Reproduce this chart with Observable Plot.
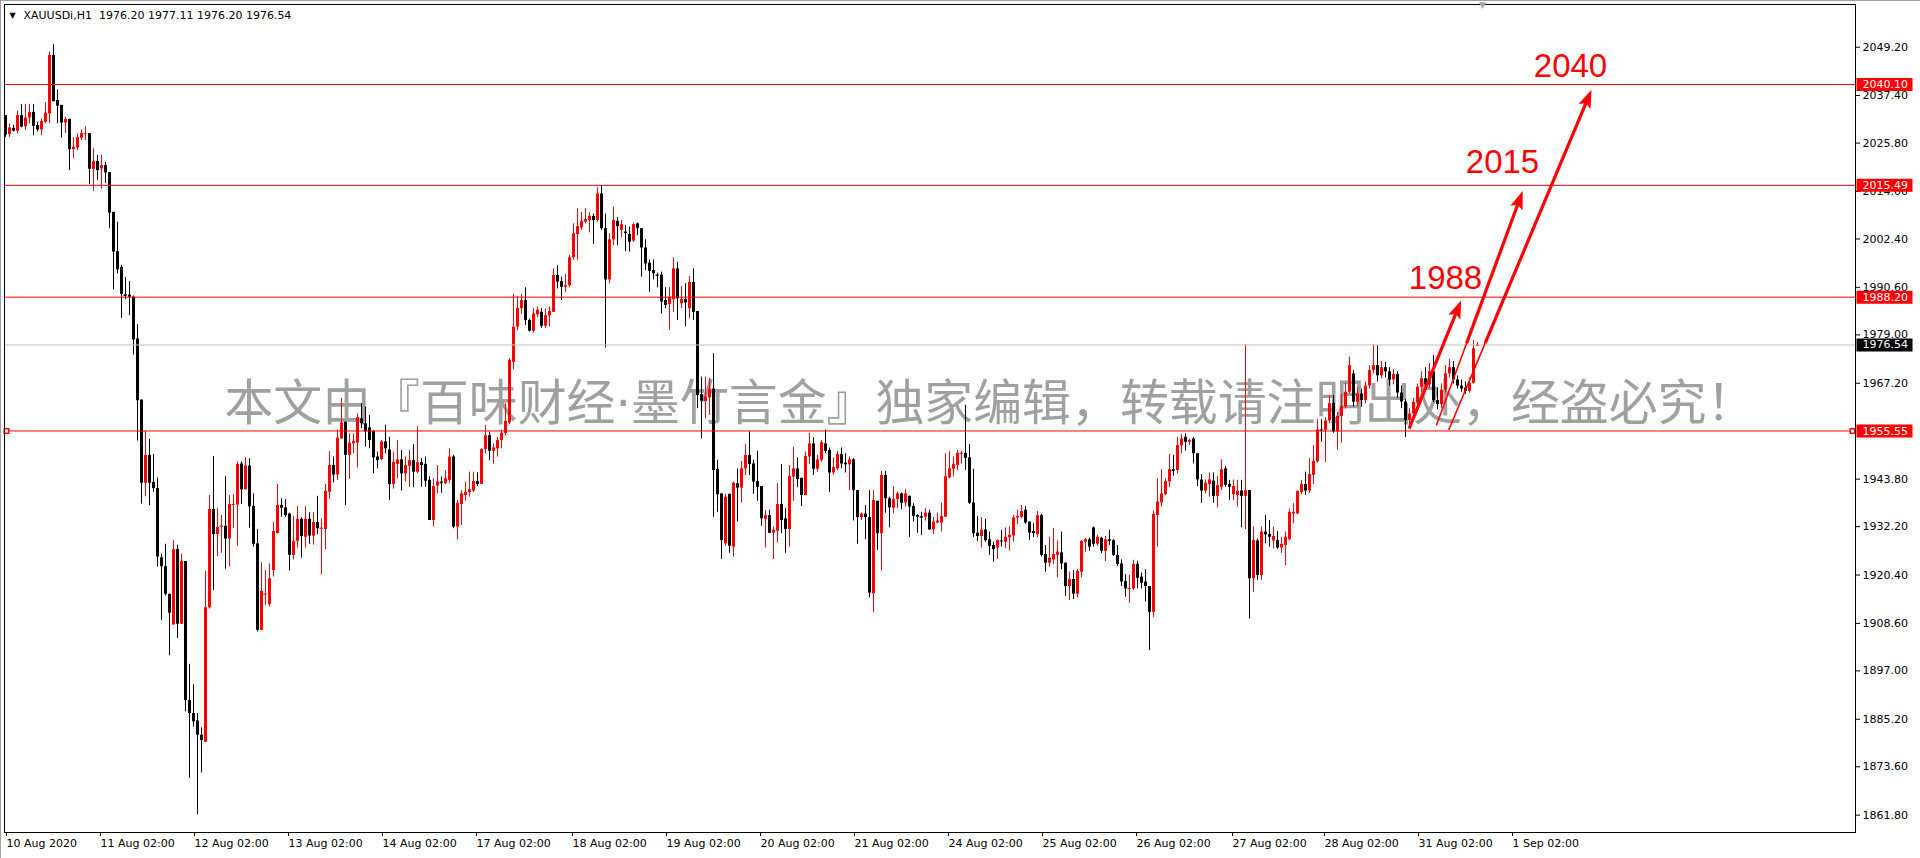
<!DOCTYPE html>
<html><head><meta charset="utf-8">
<script src="https://cdn.jsdelivr.net/npm/d3@7"></script>
<script src="https://cdn.jsdelivr.net/npm/@observablehq/plot@0.6"></script>
<style>
html,body{margin:0;padding:0;background:#fff;}
#chart{position:relative;width:1920px;height:858px;overflow:hidden;}
.edge{position:absolute;background:#a0a0a0;}
</style></head><body><div id="chart"></div>
<script>
// ---- XAUUSDi H1 candles (index 0 = 10 Aug 2020) ----
const opens = [
2032.5,2027.9,2029.4,2028.7,2032.5,2029.8,2031.9,2033.3,2030.1,2029.0,
2030.9,2032.9,2047.2,2036.2,2035.0,2030.7,2031.6,2024.2,2024.6,2027.0,
2028.0,2028.1,2019.4,2021.3,2019.5,2020.3,2018.6,2008.9,1999.3,1995.5,
1988.8,1988.7,1988.2,1978.0,1963.1,1942.8,1949.6,1943.0,1941.5,1924.6,
1922.4,1915.7,1908.2,1926.6,1908.4,1923.7,1889.8,1886.6,1884.8,1881.3,
1879.6,1912.4,1936.4,1930.3,1932.1,1932.3,1929.2,1937.5,1937.5,1947.5,
1941.2,1947.0,1937.1,1928.0,1906.9,1915.6,1913.2,1921.5,1930.5,1937.4,
1936.8,1935.3,1925.2,1928.6,1934.0,1929.6,1934.0,1929.9,1933.2,1931.7,
1931.5,1940.6,1947.1,1944.8,1953.6,1957.7,1949.6,1952.4,1952.6,1958.5,
1957.3,1956.3,1955.5,1949.2,1948.6,1952.9,1950.9,1942.5,1947.4,1948.5,
1945.1,1946.9,1948.3,1945.5,1947.8,1947.4,1943.5,1933.7,1942.1,1943.1,
1942.7,1943.5,1949.2,1932.1,1937.6,1939.8,1940.5,1940.9,1943.2,1942.5,
1951.0,1954.4,1950.6,1951.2,1953.2,1954.9,1957.5,1972.3,1980.9,1985.4,
1987.4,1982.5,1979.9,1983.9,1984.5,1981.1,1983.6,1984.5,1993.5,1992.0,
1990.6,1991.0,1997.8,2003.5,2005.1,2006.5,2006.9,2007.9,2006.9,2013.4,
2004.9,1992.4,2002.2,2006.7,2004.5,2004.1,2003.5,2001.9,2006.1,2004.9,
2000.2,1996.5,1994.7,1993.6,1993.6,1987.4,1986.4,1987.6,1995.1,1986.6,
1987.6,1985.4,1991.8,1984.7,1964.4,1962.7,1963.6,1965.8,1946.2,1940.2,
1928.0,1940.1,1927.2,1942.7,1941.6,1946.3,1949.6,1947.5,1943.2,1942.0,
1934.0,1934.9,1930.6,1931.1,1937.6,1934.1,1931.5,1944.3,1946.3,1944.0,
1939.8,1949.2,1952.4,1946.2,1948.4,1952.4,1950.8,1945.3,1946.3,1949.8,
1947.7,1947.3,1948.5,1941.0,1934.4,1935.3,1934.4,1915.8,1938.4,1930.5,
1944.7,1939.0,1936.7,1938.8,1940.2,1938.0,1939.6,1937.1,1934.9,1934.7,
1934.5,1935.5,1931.4,1933.1,1933.1,1934.5,1944.1,1946.2,1947.1,1950.0,
1950.1,1949.0,1938.0,1930.6,1929.8,1931.4,1929.0,1927.6,1927.0,1928.8,
1928.4,1929.5,1929.9,1934.3,1934.5,1936.2,1933.3,1931.0,1930.2,1934.9,
1925.4,1923.3,1924.1,1925.2,1925.8,1923.3,1917.6,1919.3,1915.7,1921.1,
1928.4,1929.0,1931.9,1927.9,1929.4,1926.2,1929.0,1928.8,1925.2,1923.1,
1918.8,1917.0,1917.0,1923.0,1919.9,1918.7,1917.6,1911.3,1934.9,1938.0,
1940.0,1943.1,1946.1,1945.9,1951.9,1954.0,1952.8,1953.6,1950.0,1943.6,
1940.9,1942.5,1943.3,1939.6,1941.8,1946.3,1942.5,1940.0,1939.8,1940.9,
1939.6,1941.0,1919.5,1928.7,1920.3,1930.9,1930.3,1928.7,1928.8,1927.0,
1927.6,1929.0,1935.3,1935.3,1940.5,1942.5,1940.9,1944.7,1948.0,1955.8,
1955.7,1958.0,1962.3,1955.3,1959.1,1961.4,1965.0,1969.5,1962.6,1964.6,
1963.0,1966.5,1970.3,1971.5,1969.0,1971.0,1970.0,1968.0,1969.3,1964.8,
1962.6,1958.1,1959.7,1962.5,1966.2,1968.3,1966.8,1970.0,1963.0,1962.0,
1965.5,1969.5,1971.0,1968.0,1966.5,1966.0,1965.2,1967.2,1976.2];
const highs = [
2032.5,2030.5,2030.1,2033.6,2035.2,2035.2,2035.2,2035.2,2030.9,2031.7,
2035.7,2048.0,2049.9,2038.8,2035.0,2032.1,2031.6,2027.2,2028.1,2029.0,
2029.8,2028.1,2024.4,2022.8,2022.8,2021.1,2018.6,2008.9,2006.5,1996.0,
1993.0,1992.0,1988.5,1981.5,1963.1,1955.4,1953.5,1949.8,1944.1,1925.5,
1927.9,1915.7,1928.8,1927.7,1925.5,1923.7,1898.6,1893.6,1886.6,1883.1,
1921.3,1939.8,1949.3,1936.7,1934.9,1944.4,1939.8,1940.0,1948.0,1948.0,
1949.0,1948.8,1940.2,1931.5,1923.4,1921.5,1923.1,1933.3,1942.5,1939.0,
1938.8,1935.5,1934.7,1937.1,1934.4,1937.1,1935.6,1935.6,1939.6,1934.1,
1942.5,1950.5,1949.2,1955.8,1963.5,1957.7,1954.9,1954.9,1959.7,1962.2,
1961.4,1959.3,1955.5,1950.4,1953.2,1956.9,1954.0,1950.4,1953.2,1950.8,
1949.2,1950.8,1952.2,1956.6,1948.8,1949.2,1944.4,1943.9,1947.1,1944.3,
1945.9,1951.2,1949.6,1938.6,1941.0,1943.1,1945.5,1945.5,1945.3,1951.2,
1956.9,1955.3,1952.4,1954.0,1955.7,1962.2,1973.2,1988.9,1988.3,1988.9,
1990.5,1982.9,1985.4,1985.8,1985.4,1985.4,1985.8,1995.1,1995.9,1993.1,
1993.7,1998.4,2006.1,2009.8,2008.9,2009.8,2008.9,2008.5,2014.9,2015.4,
2008.5,2003.7,2010.2,2007.6,2006.9,2005.7,2005.3,2006.3,2006.3,2004.9,
2002.2,1997.3,1997.3,1994.1,1994.3,1990.5,1990.5,1997.8,1996.7,1990.8,
1991.5,1993.2,1995.1,1984.7,1968.7,1968.7,1968.3,1974.4,1948.4,1940.2,
1940.1,1940.1,1943.1,1946.3,1948.1,1952.3,1955.3,1948.4,1950.6,1942.0,
1936.2,1936.2,1932.2,1942.7,1947.4,1936.7,1947.1,1951.6,1949.0,1944.0,
1950.4,1955.0,1953.9,1949.6,1953.2,1955.8,1951.4,1949.0,1950.6,1951.4,
1950.0,1949.2,1948.8,1941.0,1935.5,1937.4,1941.0,1941.0,1938.4,1945.7,
1945.7,1939.4,1942.0,1940.6,1940.4,1941.3,1939.7,1937.8,1935.1,1935.7,
1936.6,1936.2,1934.4,1935.5,1937.9,1950.0,1950.5,1949.2,1950.8,1950.6,
1961.8,1952.3,1946.2,1934.7,1934.4,1934.0,1930.9,1928.4,1929.0,1931.3,
1931.9,1932.2,1934.9,1936.2,1937.4,1937.1,1933.4,1932.9,1935.9,1935.2,
1927.6,1929.6,1931.8,1928.7,1930.9,1923.3,1921.1,1921.5,1921.7,1928.8,
1929.4,1929.4,1932.1,1930.1,1929.6,1929.8,1931.3,1929.0,1927.6,1924.1,
1920.5,1920.3,1924.0,1923.8,1920.9,1921.7,1917.6,1936.0,1943.9,1946.1,
1943.9,1949.8,1949.6,1954.0,1954.7,1954.9,1953.6,1953.9,1950.0,1944.9,
1943.6,1945.3,1945.3,1944.4,1948.5,1946.9,1943.5,1943.6,1943.5,1943.5,
1976.6,1941.0,1932.2,1929.2,1932.1,1934.9,1933.7,1932.1,1931.0,1929.6,
1930.9,1936.5,1937.8,1940.9,1943.5,1945.5,1948.8,1952.0,1958.3,1958.3,
1958.8,1964.2,1964.2,1960.1,1964.5,1967.1,1973.6,1970.3,1966.2,1965.8,
1967.5,1971.5,1976.6,1976.4,1972.5,1972.3,1971.0,1970.5,1970.0,1966.5,
1963.2,1961.0,1963.5,1967.0,1970.0,1971.0,1972.0,1974.0,1966.0,1967.0,
1971.5,1973.0,1972.5,1969.0,1968.0,1967.5,1968.5,1977.6,1977.11];
const lows = [
2027.2,2027.2,2028.5,2028.1,2029.5,2028.9,2030.5,2027.6,2028.5,2027.6,
2030.5,2030.5,2035.9,2030.5,2027.0,2028.2,2019.1,2021.9,2024.0,2026.4,
2026.4,2015.7,2014.1,2016.7,2014.6,2015.9,2004.9,1990.0,1993.9,1983.0,
1987.6,1983.7,1974.1,1953.1,1937.7,1939.5,1937.3,1940.6,1922.3,1909.3,
1915.3,1900.7,1908.2,1904.9,1908.4,1887.0,1870.8,1883.3,1861.9,1872.1,
1879.6,1912.1,1916.6,1924.9,1925.7,1921.8,1922.3,1931.8,1927.4,1937.6,
1941.2,1931.8,1927.2,1906.5,1906.9,1913.0,1912.6,1919.9,1930.5,1934.5,
1934.4,1921.4,1924.1,1927.0,1924.5,1927.0,1927.9,1927.7,1930.2,1920.4,
1926.6,1938.8,1942.9,1943.5,1953.6,1937.4,1943.7,1950.0,1946.5,1956.1,
1951.6,1951.2,1945.1,1946.3,1948.3,1950.0,1938.6,1941.4,1943.9,1940.9,
1943.1,1941.8,1941.7,1945.1,1941.8,1941.8,1933.7,1932.1,1940.2,1940.4,
1942.5,1942.7,1931.7,1929.0,1932.5,1938.4,1939.4,1940.5,1942.0,1942.5,
1950.0,1948.3,1947.5,1949.2,1951.2,1954.4,1957.1,1970.5,1980.0,1984.0,
1981.3,1979.7,1979.4,1983.2,1980.6,1980.6,1980.9,1984.5,1990.2,1987.4,
1989.3,1990.5,1997.2,1997.2,2004.5,2006.1,2003.9,2001.0,2006.5,2004.5,
1975.8,1991.5,2000.8,2000.8,2002.7,1999.3,1999.2,2001.6,2003.2,1993.1,
1994.7,1989.4,1992.4,1990.5,1984.1,1985.4,1980.1,1984.5,1982.5,1985.4,
1981.0,1982.9,1982.5,1961.0,1953.6,1958.5,1959.3,1934.5,1935.7,1924.2,
1927.4,1925.7,1924.8,1933.3,1937.9,1944.7,1944.7,1940.1,1938.4,1932.3,
1927.0,1930.5,1924.2,1928.2,1930.5,1925.7,1927.2,1938.4,1941.7,1937.1,
1939.8,1947.4,1944.7,1945.5,1947.9,1950.0,1940.5,1944.7,1945.9,1946.3,
1945.3,1941.0,1933.6,1927.9,1933.7,1929.0,1914.8,1911.2,1926.4,1921.4,
1935.5,1931.9,1935.3,1936.6,1936.3,1937.0,1929.6,1933.3,1930.6,1930.0,
1933.6,1931.3,1930.3,1932.9,1930.9,1934.5,1943.9,1944.3,1945.9,1947.5,
1945.9,1937.6,1929.6,1928.6,1927.0,1928.4,1925.2,1923.5,1924.2,1927.2,
1926.8,1926.2,1928.4,1932.7,1934.1,1932.7,1928.8,1929.5,1929.6,1924.8,
1921.1,1922.3,1923.0,1919.7,1921.7,1915.2,1914.2,1914.4,1914.8,1919.7,
1926.0,1926.2,1927.2,1927.4,1925.6,1923.7,1927.6,1924.9,1922.5,1917.6,
1915.0,1913.5,1916.6,1917.0,1917.0,1913.8,1902.0,1910.1,1927.2,1937.0,
1939.8,1941.8,1944.5,1945.1,1950.0,1950.6,1952.0,1947.5,1942.0,1937.9,
1940.2,1939.4,1937.9,1936.8,1941.0,1941.8,1938.6,1938.6,1937.0,1931.9,
1931.5,1909.7,1916.2,1919.1,1919.1,1928.0,1927.2,1926.8,1926.6,1925.7,
1922.7,1928.8,1932.9,1935.2,1940.0,1939.8,1940.2,1942.5,1947.7,1952.8,
1947.9,1957.3,1955.0,1950.8,1952.6,1960.9,1964.6,1961.4,1961.5,1961.3,
1962.2,1965.8,1969.5,1967.5,1968.3,1968.5,1966.5,1966.8,1963.5,1961.0,
1954.0,1956.8,1958.5,1961.5,1965.0,1965.5,1966.0,1962.5,1960.8,1961.0,
1964.8,1968.5,1967.0,1965.8,1965.0,1964.5,1964.8,1967.0,1976.2];
const closes = [
2027.8,2029.5,2028.7,2032.5,2029.7,2031.9,2033.3,2029.9,2029.0,2031.1,
2033.1,2047.2,2035.9,2034.8,2030.7,2031.6,2024.2,2024.8,2027.1,2028.1,
2028.1,2019.4,2021.3,2019.1,2020.3,2018.5,2008.7,1999.2,1994.9,1988.9,
1988.6,1988.2,1977.8,1962.9,1942.8,1949.6,1942.8,1941.5,1924.8,1922.4,
1915.7,1911.1,1926.6,1908.4,1923.7,1889.8,1886.6,1884.6,1881.3,1880.0,
1912.4,1936.4,1930.3,1932.0,1932.3,1929.2,1937.6,1937.6,1947.4,1941.2,
1947.0,1937.0,1927.9,1906.9,1916.4,1915.7,1919.5,1931.0,1937.4,1936.7,
1934.9,1925.2,1928.6,1934.0,1929.8,1934.0,1929.9,1933.2,1931.7,1931.8,
1940.8,1947.1,1944.8,1953.8,1957.5,1949.6,1952.6,1953.0,1958.8,1957.3,
1955.3,1953.2,1949.0,1948.3,1952.9,1951.2,1942.5,1947.9,1948.5,1945.1,
1947.1,1948.3,1945.5,1947.8,1947.1,1943.3,1933.7,1942.0,1943.1,1942.9,
1943.9,1949.2,1932.1,1937.9,1940.2,1940.6,1941.2,1943.2,1942.5,1951.0,
1954.4,1950.6,1951.4,1953.2,1955.0,1957.9,1972.8,1980.9,1985.5,1987.4,
1982.5,1979.9,1984.1,1985.0,1981.1,1983.7,1984.7,1993.5,1991.9,1990.6,
1991.0,1997.8,2003.7,2005.4,2006.7,2007.2,2007.9,2006.9,2013.4,2004.9,
1992.4,2002.2,2006.9,2005.4,2005.9,2003.7,2001.6,2005.9,2005.0,2000.2,
1996.3,1994.5,1993.9,1993.5,1987.0,1986.2,1988.2,1995.1,1987.8,1987.6,
1986.8,1991.8,1984.5,1964.2,1962.8,1963.8,1965.8,1945.9,1940.0,1928.8,
1939.4,1927.4,1942.8,1941.6,1946.3,1949.6,1947.4,1943.1,1941.8,1934.1,
1934.9,1930.6,1931.3,1937.6,1933.7,1931.5,1944.4,1946.3,1943.7,1939.8,
1949.3,1952.4,1946.2,1948.5,1952.7,1950.6,1945.3,1946.6,1949.8,1947.5,
1947.3,1948.5,1941.0,1934.4,1935.3,1934.4,1916.0,1938.6,1930.5,1944.7,
1939.0,1936.8,1938.8,1940.2,1937.9,1940.2,1937.0,1934.7,1934.5,1934.5,
1935.5,1931.4,1933.3,1933.6,1934.7,1944.4,1946.3,1947.4,1950.1,1950.1,
1948.9,1937.9,1930.5,1929.8,1931.3,1928.8,1927.4,1926.6,1928.8,1928.7,
1929.6,1930.1,1934.3,1934.7,1935.9,1933.1,1930.6,1930.5,1934.9,1925.2,
1923.3,1924.5,1925.4,1926.0,1923.1,1917.6,1919.3,1915.7,1921.3,1928.6,
1929.0,1927.2,1927.9,1929.6,1926.2,1929.0,1928.8,1925.2,1923.0,1918.7,
1917.0,1917.1,1923.0,1919.6,1918.4,1917.6,1911.3,1935.2,1938.2,1940.2,
1943.2,1946.1,1945.9,1952.0,1953.6,1952.8,1953.2,1950.0,1943.6,1940.9,
1942.8,1943.6,1939.6,1942.2,1946.1,1942.3,1941.8,1942.0,1940.8,1939.6,
1941.0,1919.5,1928.8,1920.3,1930.9,1930.2,1929.6,1929.8,1927.0,1927.9,
1929.6,1935.7,1935.7,1940.8,1942.5,1940.9,1944.9,1948.1,1955.8,1955.7,
1958.0,1962.2,1955.3,1959.1,1961.5,1965.0,1971.5,1962.6,1964.6,1963.0,
1966.5,1970.3,1971.5,1969.0,1971.0,1970.0,1968.0,1969.3,1964.8,1962.6,
1958.1,1959.7,1962.5,1966.2,1968.3,1966.8,1970.0,1963.0,1962.0,1965.5,
1969.5,1971.0,1968.0,1966.5,1965.8,1965.2,1967.2,1975.6,1976.54];

// ---- axes ----
const xTickIndex = [-0.5,23,46.5,70,93.5,117,141,164.5,188,211.5,235,258.5,282,306,329,352.5,376];
const xTickLabels = ["10 Aug 2020","11 Aug 02:00","12 Aug 02:00","13 Aug 02:00","14 Aug 02:00","17 Aug 02:00","18 Aug 02:00","19 Aug 02:00","20 Aug 02:00","21 Aug 02:00","24 Aug 02:00","25 Aug 02:00","26 Aug 02:00","27 Aug 02:00","28 Aug 02:00","31 Aug 02:00","1 Sep 02:00"];
const yTicks = [2049.2,2037.4,2025.8,2014.0,2002.4,1990.6,1979.0,1967.2,1943.8,1932.2,1920.4,1908.6,1897.0,1885.2,1873.6,1861.8];

// ---- levels & annotations ----
const redLevels = [2040.10, 2015.49, 1988.20, 1955.55];
const bidLevel = [1976.54];
const arrowX1 = [350.9, 357.7, 360.8];
const arrowY1 = [1956.1, 1956.9, 1955.8];
const arrowX2 = [363.9, 379.3, 396.5];
const arrowY2 = [1987.4, 2014.1, 2038.8];
const arrowThickFrom = [null, 1977.0, 1977.0];   // price where the shaft turns thick
const targetText = ["1988", "2015", "2040"];
const targetX = [360, 374.25, 391.25];
const targetY = [1992.66, 2021.2, 2044.5];
const headerText = "XAUUSDi,H1\u00a0 1976.20 1977.11 1976.20 1976.54";
const watermarkText = "本文由『百味财经·墨竹言金』独家编辑，转载请注明出处，经盗必究！";
const watermarkX = [246.1];
const watermarkY = [1962.0];
const shiftMarkX = [369.25];

// ---- layout ----
const W = 1920, H = 858, M = {l: 4, r: 65, t: 4, b: 26};
const X_DOMAIN = [-0.25, 462.5], Y_DOMAIN = [1857.57, 2059.62];
const RED = "#ff0000";

const n = opens.length;
if (!(highs.length === n && lows.length === n && closes.length === n)) {
  throw new Error("length mismatch " + [n, highs.length, lows.length, closes.length].join(","));
}
const bars = opens.map((o, i) => ({i, o, h: highs[i], l: lows[i], c: closes[i]}));
const up = bars.filter(d => d.c >= d.o);
const down = bars.filter(d => d.c < d.o);
const dojiUp = up.filter(d => Math.abs(d.c - d.o) < 0.3);
const dojiDown = down.filter(d => Math.abs(d.c - d.o) < 0.3);

// arrows: shafts (thin + thick part) and filled heads, oriented through the plot scales
const xs = Plot.scale({x: {type: "linear", domain: X_DOMAIN, range: [M.l, W - M.r]}});
const ys = Plot.scale({y: {type: "linear", domain: Y_DOMAIN, range: [H - M.b, M.t]}});
const shafts = [], heads = [];
arrowX1.forEach((x1, k) => {
  const y1 = arrowY1[k], x2 = arrowX2[k], y2 = arrowY2[k];
  const px1 = xs.apply(x1), py1 = ys.apply(y1), px2 = xs.apply(x2), py2 = ys.apply(y2);
  const len = Math.hypot(px2 - px1, py2 - py1), ux = (px2 - px1) / len, uy = (py2 - py1) / len;
  const ex = xs.invert(px2 - ux * 12), ey = ys.invert(py2 - uy * 12);
  let sx = x1, sy = y1;
  if (arrowThickFrom[k] != null) {
    const t = (arrowThickFrom[k] - y1) / (y2 - y1);
    sx = x1 + t * (x2 - x1); sy = arrowThickFrom[k];
    shafts.push({x1, y1, x2: sx, y2: sy, w: 1.6});
  }
  shafts.push({x1: sx, y1: sy, x2: ex, y2: ey, w: 3.2});
  heads.push({x: x2, y: y2, a: Math.atan2(px2 - px1, -(py2 - py1)) * 180 / Math.PI});
});
const headSym = {draw(ctx) { ctx.moveTo(0, 0); ctx.lineTo(6.5, 18); ctx.lineTo(0, 14.5); ctx.lineTo(-6.5, 18); ctx.closePath(); }};
const targets = targetText.map((t, k) => ({t, x: targetX[k], y: targetY[k]}));
const tickLabel = new Map(xTickIndex.map((v, k) => [v, xTickLabels[k]]));
const boxSym = {draw(ctx) { ctx.moveTo(-28, -6.5); ctx.lineTo(28, -6.5); ctx.lineTo(28, 6.5); ctx.lineTo(-28, 6.5); ctx.closePath(); }};

const plot = Plot.plot({
  width: W, height: H,
  marginLeft: M.l, marginRight: M.r, marginTop: M.t, marginBottom: M.b,
  x: {type: "linear", domain: X_DOMAIN, axis: null},
  y: {type: "linear", domain: Y_DOMAIN, axis: null},
  style: {fontFamily: "'DejaVu Sans', sans-serif", fontSize: "11px", background: "#fff", color: "#000", overflow: "visible"},
  marks: [
    Plot.text(watermarkX, {x: d => d, y: (d, k) => watermarkY[k], text: () => watermarkText, fontSize: 49,
      fontFamily: "'Noto Sans CJK SC', sans-serif", fill: "#a0a0a0", textAnchor: "middle", lineAnchor: "middle"}),
    Plot.ruleX(up, {x: "i", y1: "l", y2: "h", stroke: RED}),
    Plot.ruleX(down, {x: "i", y1: "l", y2: "h", stroke: "#000"}),
    Plot.ruleX(up, {x: "i", y1: "o", y2: "c", stroke: RED, strokeWidth: 3}),
    Plot.ruleX(down, {x: "i", y1: "o", y2: "c", stroke: "#000", strokeWidth: 3}),
    Plot.ruleY(dojiUp, {y: "c", x1: d => d.i - 0.375, x2: d => d.i + 0.375, stroke: RED}),
    Plot.ruleY(dojiDown, {y: "c", x1: d => d.i - 0.375, x2: d => d.i + 0.375, stroke: "#000"}),
    Plot.ruleY(bidLevel, {y: d => d, stroke: "#c0c0c0"}),
    Plot.ruleY(redLevels, {y: d => d, stroke: RED}),
    Plot.dot([redLevels[3]], {y: d => d, frameAnchor: "left", dx: 2, symbol: "square", r: 2.5, fill: "#fff", stroke: RED}),
    Plot.dot([redLevels[3]], {y: d => d, frameAnchor: "right", dx: -3, symbol: "square", r: 2.5, fill: "#fff", stroke: RED}),
    Plot.link(shafts, {x1: "x1", y1: "y1", x2: "x2", y2: "y2", stroke: RED, strokeWidth: "w"}),
    Plot.dot(heads, {x: "x", y: "y", rotate: "a", symbol: headSym, fill: RED, stroke: null}),
    Plot.text(targets, {x: "x", y: "y", text: "t", fill: RED, fontSize: 33, fontFamily: "'Liberation Sans', Arial, sans-serif",
      textAnchor: "middle", lineAnchor: "middle"}),
    Plot.frame({stroke: "#000"}),
    Plot.text(shiftMarkX, {x: d => d, frameAnchor: "top", lineAnchor: "top", dy: -3, text: () => "\u25BC", fontSize: 9, fill: "#a8a8a8"}),
    Plot.axisX({anchor: "bottom", ticks: xTickIndex, tickFormat: d => tickLabel.get(d), tickSize: 4, tickPadding: 3,
      textAnchor: "start", dx: 3, label: null, fontSize: 11}),
    Plot.axisY({anchor: "right", ticks: yTicks, tickFormat: d => d.toFixed(2), tickSize: 4, tickPadding: 3, label: null, fontSize: 11}),
    Plot.dot(redLevels, {y: d => d, frameAnchor: "right", dx: 29, symbol: boxSym, fill: RED, stroke: null}),
    Plot.dot(bidLevel, {y: d => d, frameAnchor: "right", dx: 29, symbol: boxSym, fill: "#000", stroke: null}),
    Plot.text(redLevels.concat(bidLevel), {y: d => d, frameAnchor: "right", dx: 7, textAnchor: "start", lineAnchor: "middle",
      text: d => d.toFixed(2), fill: "#fff", fontSize: 11}),
    Plot.text(["\u25BC"], {frameAnchor: "top-left", dx: 5, dy: 8, fontSize: 8, fill: "#000"}),
    Plot.text([headerText], {frameAnchor: "top-left", dx: 19, dy: 7, fontSize: 11, fill: "#000"})
  ]
});
document.getElementById("chart").appendChild(plot);

// watermark: narrow middle dot, stretched to the reference width
const wm = d3.select(plot).selectAll("text").filter(function() { return this.textContent === watermarkText; });
const parts = watermarkText.split("·");
wm.text(null);
wm.append("tspan").text(parts[0]);
wm.append("tspan").attr("font-family", "'DejaVu Sans', sans-serif").text("·");
wm.append("tspan").text(parts[1]);
wm.attr("textLength", 1531).attr("lengthAdjust", "spacingAndGlyphs");

const c = document.getElementById("chart");
const l = document.createElement("div"); l.className = "edge"; l.style.cssText = "left:0;top:0;width:1px;height:858px;"; c.appendChild(l);
const t = document.createElement("div"); t.className = "edge"; t.style.cssText = "left:0;top:0;width:1920px;height:1px;"; c.appendChild(t);
</script>
</body></html>
